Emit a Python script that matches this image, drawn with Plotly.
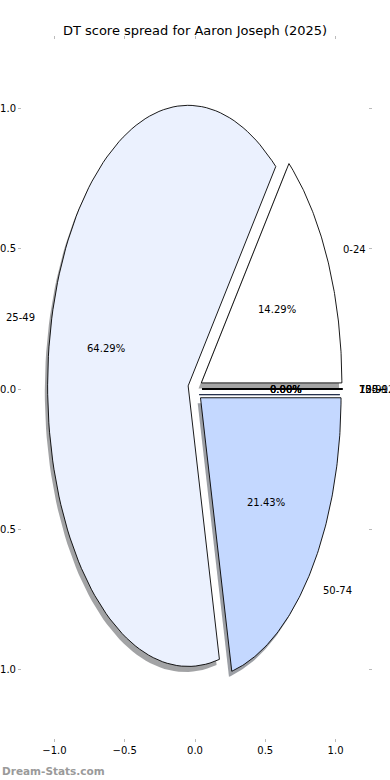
import numpy as np
import plotly.graph_objects as go

categories = ["0-24", "25-49", "50-74", "75-99", "100-124", "125+"]
values = [2, 9, 3, 0, 0, 0]
colors = ["#FFFFFF", "#EBF1FE", "#C4D8FF", "#9DBEFF", "#7AA6FF", "#5A8FFF"]
explode = [0.05, 0.05, 0.05, 0.05, 0.05, 0.05]
title = "DT score spread for Aaron Joseph (2025)"
tick_vals = [-1.0, -0.5, 0.0, 0.5, 1.0]

FONT = "DejaVu Sans"
total = sum(values)
fracs = [v / total for v in values]

fig = go.Figure()

def wedge(theta1, theta2, cx, cy, r=1.0, n=120):
    t = np.linspace(np.radians(theta1), np.radians(theta2), n)
    xs = np.concatenate([[cx], cx + r * np.cos(t), [cx]])
    ys = np.concatenate([[cy], cy + r * np.sin(t), [cy]])
    return xs, ys

def hex_rgb(h):
    h = h.lstrip("#")
    return tuple(int(h[i:i + 2], 16) for i in (0, 2, 4))

geo = []
theta = 0.0
for cat, f, col, ex in zip(categories, fracs, colors, explode):
    t1 = theta
    t2 = theta + 360.0 * f
    mid = np.radians((t1 + t2) / 2)
    cx, cy = ex * np.cos(mid), ex * np.sin(mid)
    geo.append((cat, f, col, t1, t2, mid, cx, cy))
    theta = t2

# shadows first
for cat, f, col, t1, t2, mid, cx, cy in geo:
    xs, ys = wedge(t1, t2, cx, cy)
    r, g, b = hex_rgb(col)
    sc = f"rgba({int(r*0.3)},{int(g*0.3)},{int(b*0.3)},0.5)"
    fig.add_trace(go.Scatter(
        x=xs - 0.02, y=ys - 0.02, mode="lines", fill="toself",
        fillcolor=sc, line=dict(color=sc, width=1 if f == 0 else 0),
        hoverinfo="skip", showlegend=False))

# wedges
for cat, f, col, t1, t2, mid, cx, cy in geo:
    xs, ys = wedge(t1, t2, cx, cy)
    fig.add_trace(go.Scatter(
        x=xs, y=ys, mode="lines", fill="toself", fillcolor=col,
        line=dict(color="black", width=1.6 if f == 0 else 0.9),
        hoverinfo="skip", showlegend=False))

annotations = []
for cat, f, col, t1, t2, mid, cx, cy in geo:
    lx = cx + 1.1 * np.cos(mid)
    ly = cy + 1.1 * np.sin(mid)
    annotations.append(dict(x=lx, y=ly, xref="x", yref="y", text=cat, showarrow=False,
                            xanchor="left" if lx > 0 else "right", yanchor="middle",
                            font=dict(family=FONT, size=10, color="black")))
    px_ = cx + 0.6 * np.cos(mid)
    py_ = cy + 0.6 * np.sin(mid)
    annotations.append(dict(x=px_, y=py_, xref="x", yref="y", text=f"{f*100:.2f}%", showarrow=False,
                            xanchor="center", yanchor="middle",
                            font=dict(family=FONT, size=10, color="black")))

annotations.append(dict(x=-22 / 346, y=-33 / 698, xref="paper", yref="paper", text="<b>Dream-Stats.com</b>",
                        showarrow=False, xanchor="left", yanchor="middle",
                        font=dict(family=FONT, size=10.5, color="#9a9a9a")))

axis_common = dict(
    tickvals=tick_vals, tickformat=".1f", ticks="outside", ticklen=3, tickwidth=1,
    tickcolor="#bbbbbb", showgrid=False, zeroline=False, showline=True, linecolor="rgba(255,255,255,0)",
    mirror="ticks", tickfont=dict(family=FONT, size=10, color="black"), fixedrange=True,
)

fig.update_layout(
    width=390, height=780,
    margin=dict(l=22, r=22, t=40, b=42, autoexpand=False),
    paper_bgcolor="white", plot_bgcolor="white",
    title=dict(text=title, x=0.5, xanchor="center", y=1 - 30 / 780, yanchor="middle", yref="container",
               font=dict(family=FONT, size=13, color="black")),
    xaxis=dict(range=[-1.231, 1.231], automargin=False, **axis_common),
    yaxis=dict(range=[-1.244, 1.244], automargin=False, **axis_common),
    annotations=annotations,
    showlegend=False,
)

fig.write_html("out.html", config={"displayModeBar": False},
               post_script="document.body.style.margin='0px';document.body.style.overflow='hidden';")
